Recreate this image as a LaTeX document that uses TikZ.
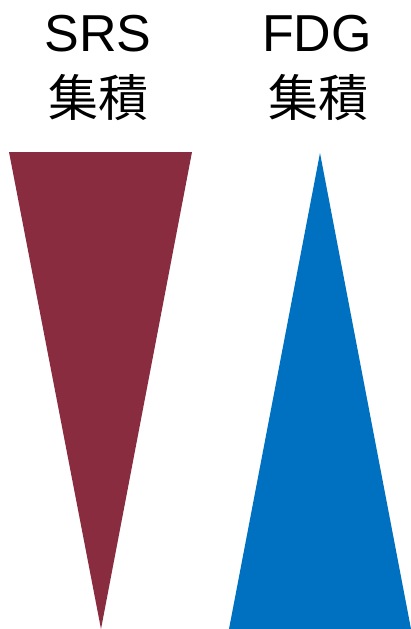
\documentclass[tikz,border=0pt]{standalone}
\usepackage{fontspec}
\setmainfont{Liberation Sans}
\newfontfamily\cjk{Noto Sans CJK JP}
\definecolor{srsred}{RGB}{137,44,63}
\definecolor{fdgblue}{RGB}{0,112,192}
\begin{document}
\begin{tikzpicture}[x=1pt,y=-1pt,
  lbl/.style={font=\fontsize{52}{56}\selectfont, inner sep=0pt, anchor=base},
  cjklbl/.style={font=\cjk\fontsize{50}{54}\selectfont, inner sep=0pt, anchor=center}]
\useasboundingbox (0,0) rectangle (411,629);
\node[lbl] (srs) at (98,51) {SRS};
\node[lbl] (fdg) at (317,51) {FDG};
\node[cjklbl] (srsj) at (98,98) {集積};
\node[cjklbl] (fdgj) at (318,98) {集積};
\fill[srsred] (9,152) -- (192,152) -- (101,629) -- cycle;
\fill[fdgblue] (320,153) -- (411,629) -- (229,629) -- cycle;
\end{tikzpicture}
\end{document}
